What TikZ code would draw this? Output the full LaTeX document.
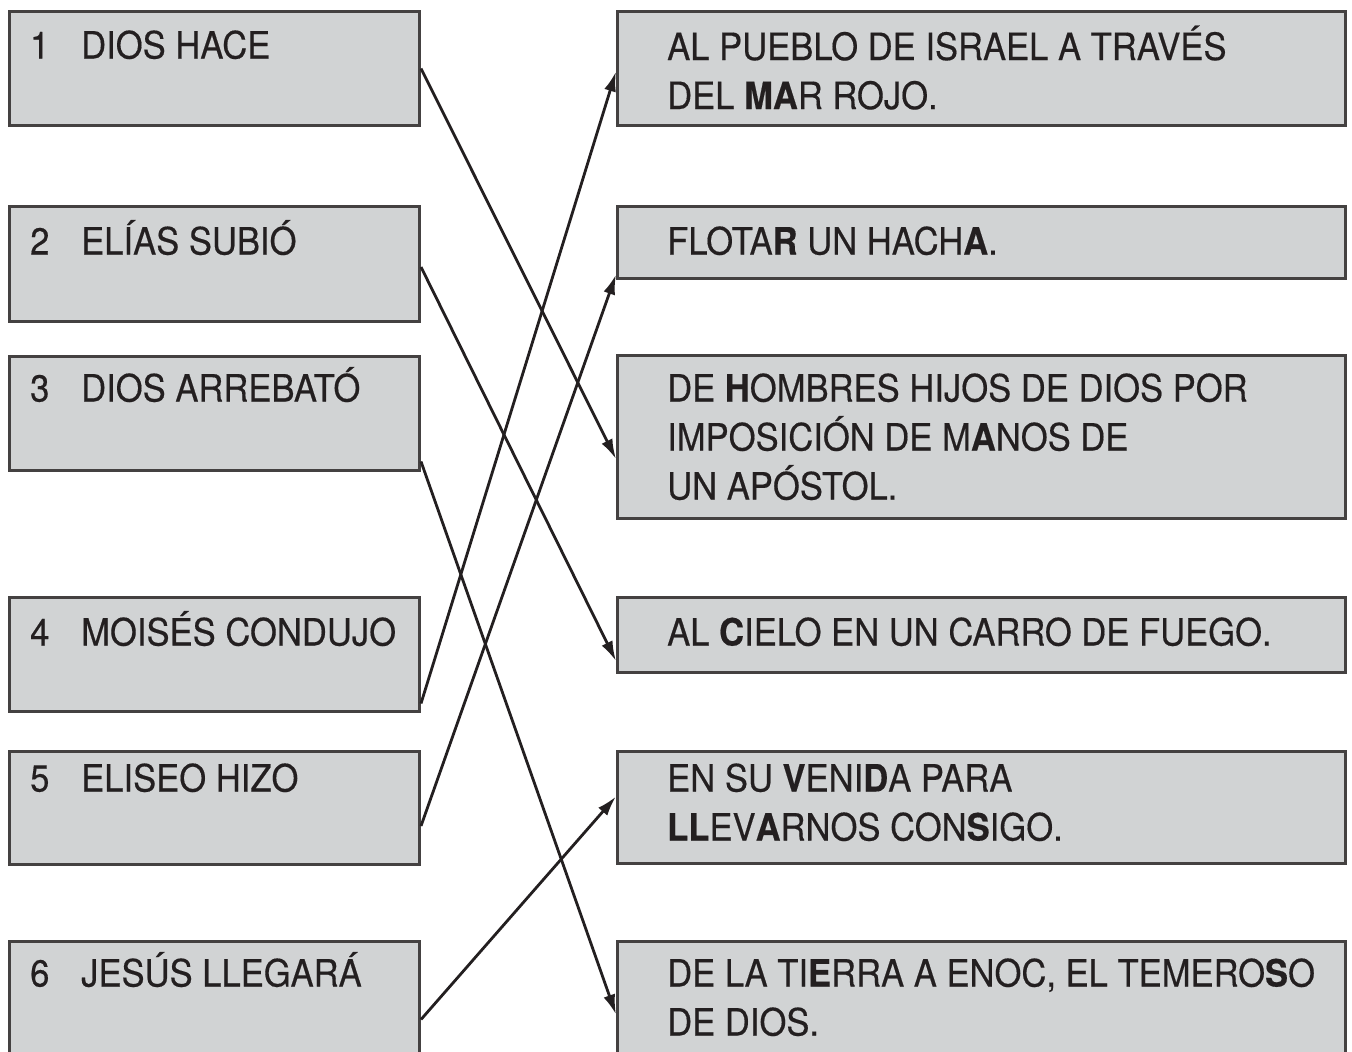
\documentclass[tikz,border=0pt]{standalone}
\usepackage{fontspec}
\setmainfont[FakeStretch=0.92,FakeBold=0.4]{TeX Gyre Heros}
\usetikzlibrary{arrows.meta}
\definecolor{boxgray}{RGB}{209,211,212}
\definecolor{inkdark}{RGB}{35,31,32}
\newcommand{\num}[1]{\makebox[51pt][l]{#1}}
\newcommand{\twolines}[2]{\vtop{\hbox{#1}\hbox{#2}}}
\newcommand{\threelines}[3]{\vtop{\hbox{#1}\hbox{#2}\hbox{#3}}}
\begin{document}
\begin{tikzpicture}[x=1pt,y=-1pt,
	box/.style={draw=inkdark!85, line width=3pt, fill=boxgray, inner sep=0pt, anchor=north west},
	txt/.style={anchor=base west, inner sep=0pt, text=inkdark, font=\fontsize{37.6}{49}\selectfont},
	link/.style={draw=inkdark, line width=2.8pt, -{Latex[length=20pt,width=12pt]}}]
		\useasboundingbox (0,0) rectangle (1352,1052);
		\clip (0,0) rectangle (1352,1052);

		% left column
		\node[box, minimum width=410pt, minimum height=114pt] (l1) at (8,10) {};
		\node[box, minimum width=410pt, minimum height=115pt] (l2) at (8,205) {};
		\node[box, minimum width=410pt, minimum height=114pt] (l3) at (8,355) {};
		\node[box, minimum width=410pt, minimum height=114pt] (l4) at (8,596) {};
		\node[box, minimum width=410pt, minimum height=113pt] (l5) at (8,750) {};
		\node[box, minimum width=410pt, minimum height=130pt] (l6) at (8,940) {};

		\node[txt] (t1) at (30,58.5) {\num{1}DIOS HACE};
		\node[txt] (t2) at (30,254.5) {\num{2}ELÍAS SUBIÓ};
		\node[txt] (t3) at (30,401.5) {\num{3}DIOS ARREBATÓ};
		\node[txt] (t4) at (30,645.5) {\num{4}MOISÉS CONDUJO};
		\node[txt] (t5) at (30,791.5) {\num{5}ELISEO HIZO};
		\node[txt] (t6) at (30,986.5) {\num{6}JESÚS LLEGARÁ};

		% right column
		\node[box, minimum width=728pt, minimum height=114pt] (r1) at (616,10) {};
		\node[box, minimum width=728pt, minimum height=72pt] (r2) at (616,205) {};
		\node[box, minimum width=728pt, minimum height=163pt] (r3) at (616,354) {};
		\node[box, minimum width=728pt, minimum height=75pt] (r4) at (616,596) {};
		\node[box, minimum width=728pt, minimum height=112pt] (r5) at (616,750) {};
		\node[box, minimum width=728pt, minimum height=130pt] (r6) at (616,940) {};

		\node[txt] (s1) at (667,60) {\twolines{AL PUEBLO DE ISRAEL A TRAVÉS}{DEL \textbf{MA}R ROJO.}};
		\node[txt] (s2) at (667,254.5) {FLOTA\textbf{R} UN HACH\textbf{A}.};
		\node[txt] (s3) at (667,401.5) {\threelines{DE \textbf{H}OMBRES HIJOS DE DIOS POR}{IMPOSICIÓN DE M\textbf{A}NOS DE}{UN APÓSTOL.}};
		\node[txt] (s4) at (667,645.5) {AL \textbf{C}IELO EN UN CARRO DE FUEGO.};
		\node[txt] (s5) at (667,791.5) {\twolines{EN SU \textbf{V}ENI\textbf{D}A PARA}{\textbf{LL}EV\textbf{A}RNOS CON\textbf{S}IGO.}};
		\node[txt] (s6) at (667,986.5) {\twolines{DE LA TI\textbf{E}RRA A ENOC, EL TEMERO\textbf{S}O}{DE DIOS.}};

		% connectors
		\draw[link] (l1.east) -- ([yshift=-22pt]r3.west); % 1 to 3
		\draw[link] ([yshift=-3pt]l2.east) -- ([yshift=-26pt]r4.west); % 2 to 4
		\draw[link] ([yshift=-48pt]l3.east) -- ([yshift=-8pt]r6.west); % 3 to 6
		\draw[link] ([yshift=-49pt]l4.east) -- ([yshift=-3pt]r1.west); % 4 to 1
		\draw[link] ([yshift=-18pt]l5.east) -- ([yshift=-32pt]r2.west); % 5 to 2
		\draw[link] ([yshift=-13pt]l6.east) -- ([yshift=11pt]r5.west); % 6 to 5
	\end{tikzpicture}
\end{document}
